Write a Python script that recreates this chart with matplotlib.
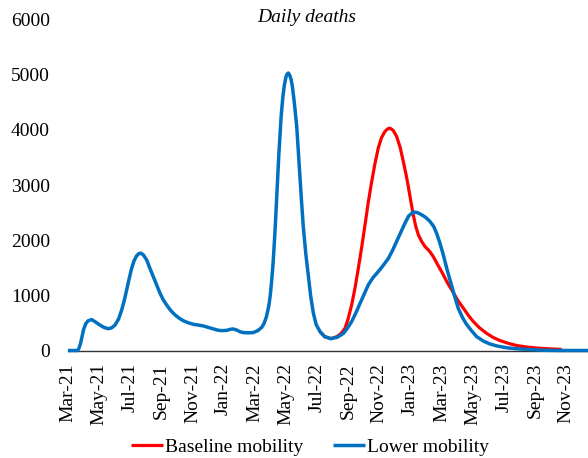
import matplotlib
matplotlib.use("Agg")
import matplotlib.pyplot as plt

plt.rcParams['font.family'] = ['Liberation Serif', 'DejaVu Serif']

# months since 1 March 2021
lower_t = [0, 0.62, 0.7, 0.8, 0.9, 1.0, 1.15, 1.3, 1.52, 1.75, 2.06, 2.3, 2.59, 2.8,
           3.02, 3.25, 3.45, 3.62, 3.77, 3.93, 4.09, 4.25, 4.41, 4.55, 4.69, 4.85,
           5.06, 5.25, 5.48, 5.7, 5.91, 6.12, 6.34, 6.6, 6.88, 7.15, 7.41, 7.7,
           8.05, 8.4, 8.7, 9.0, 9.34, 9.6, 9.87, 10.2, 10.45, 10.62, 10.85, 11.05,
           11.27, 11.6, 11.91, 12.2, 12.45, 12.6, 12.75, 12.9, 13.0, 13.1, 13.18,
           13.25, 13.33, 13.4, 13.48, 13.55, 13.63, 13.7, 13.8, 13.9, 14.0, 14.08,
           14.16, 14.25, 14.33, 14.42, 14.55, 14.7, 14.8, 14.91, 15.01, 15.12,
           15.28, 15.45, 15.6, 15.77, 15.95, 16.2, 16.5, 16.9, 17.3, 17.7, 17.95,
           18.23, 18.5, 18.77, 19.05, 19.3, 19.6, 19.94, 20.25, 20.59, 20.85,
           21.12, 21.4, 21.66, 21.9, 22.19, 22.45, 22.73, 23.0, 23.26, 23.5,
           23.69, 23.9, 24.12, 24.35, 24.6, 24.85, 25.08, 25.35, 25.6, 25.9,
           26.27, 26.7, 27.12, 27.6, 28.19, 28.8, 29.48, 30.0, 30.5, 31.5, 33.42]
lower_v = [0, 0, 40, 120, 250, 380, 490, 540, 560, 520, 460, 420, 395, 410,
           460, 570, 735, 910, 1100, 1300, 1490, 1630, 1715, 1755, 1765, 1730,
           1640, 1500, 1340, 1185, 1040, 920, 825, 725, 645, 585, 540, 505,
           475, 460, 445, 420, 390, 370, 360, 365, 385, 390, 370, 340,
           325, 320, 325, 360, 420, 490, 610, 800, 1000, 1300, 1580,
           1900, 2300, 2700, 3150, 3550, 3920, 4250, 4570, 4800, 4950, 5010,
           5030, 4990, 4920, 4790, 4480, 4060, 3620, 3155, 2700, 2250,
           1760, 1340, 980, 675, 470, 340, 250, 215, 240, 310, 400,
           525, 680, 855, 1030, 1190, 1320, 1430, 1540, 1670, 1810,
           1975, 2150, 2310, 2440, 2510, 2500, 2460, 2410, 2340, 2250,
           2125, 1950, 1735, 1480, 1230, 980, 765, 600, 480, 370,
           250, 170, 118, 80, 50, 32, 20, 12, 5, 0, 0]

base_t = [16.2, 16.5, 16.9, 17.27, 17.55, 17.8, 18.0, 18.23, 18.45, 18.66, 18.88,
          19.09, 19.3, 19.52, 19.73, 19.94, 20.15, 20.37, 20.53, 20.69, 20.9,
          21.12, 21.35, 21.55, 21.72, 21.87, 22.03, 22.19, 22.35, 22.52, 22.73,
          22.94, 23.1, 23.26, 23.48, 23.75, 24.07, 24.38, 24.7, 25.05, 25.45,
          25.75, 26.05, 26.45, 26.91, 27.3, 27.76, 28.3, 28.84, 29.5, 30.12,
          30.9, 31.73]
base_v = [340, 250, 215, 250, 310, 400, 570, 825, 1140, 1490, 1880,
          2280, 2690, 3065, 3390, 3670, 3860, 3970, 4015, 4030, 3990,
          3880, 3680, 3425, 3200, 2975, 2710, 2460, 2250, 2095, 1975,
          1885, 1840, 1790, 1700, 1560, 1400, 1230, 1080, 910, 750,
          630, 525, 410, 310, 240, 180, 130, 90, 62, 45,
          30, 20]

tick_pos = list(range(0, 33, 2))
tick_labels = ['Mar-21', 'May-21', 'Jul-21', 'Sep-21', 'Nov-21', 'Jan-22', 'Mar-22',
               'May-22', 'Jul-22', 'Sep-22', 'Nov-22', 'Jan-23', 'Mar-23', 'May-23',
               'Jul-23', 'Sep-23', 'Nov-23']
y_ticks = [0, 1000, 2000, 3000, 4000, 5000, 6000]

W, H = 588, 458
fig = plt.figure(figsize=(W / 100, H / 100), dpi=100)
ax = fig.add_axes([68 / W, 1 - 350.5 / H, 520 / W, 331 / H])

ax.plot(base_t, base_v, color='#FF0000', lw=2.3, label='Baseline mobility',
        zorder=3, clip_on=False, solid_joinstyle='round', solid_capstyle='butt')
ax.plot(lower_t, lower_v, color='#0070C0', lw=2.5, label='Lower mobility',
        zorder=4, clip_on=False, solid_joinstyle='round', solid_capstyle='butt')

ax.set_xlim(0, 33.42)
ax.set_ylim(0, 6000)
ax.set_yticks(y_ticks)
ax.set_yticklabels([str(v) for v in y_ticks], fontsize=14)
ax.set_xticks(tick_pos)
ax.set_xticklabels(tick_labels, rotation=90, fontsize=14)
ax.tick_params(axis='both', length=0)
ax.tick_params(axis='y', pad=13)
ax.tick_params(axis='x', pad=9)

for s in ['top', 'right', 'left']:
    ax.spines[s].set_visible(False)
ax.spines['bottom'].set_color('#333333')
ax.spines['bottom'].set_linewidth(1.0)

fig.text(307 / W, 1 - 18 / H, 'Daily deaths', ha='center', va='center',
         fontsize=14, style='italic')

fig.legend(loc='center', bbox_to_anchor=(310 / W, 1 - 447 / H), ncol=2,
           frameon=False, fontsize=14, handlelength=1.65, handletextpad=0.1,
           columnspacing=1.5, borderaxespad=0, borderpad=0)

fig.savefig('out.png', dpi=100)
